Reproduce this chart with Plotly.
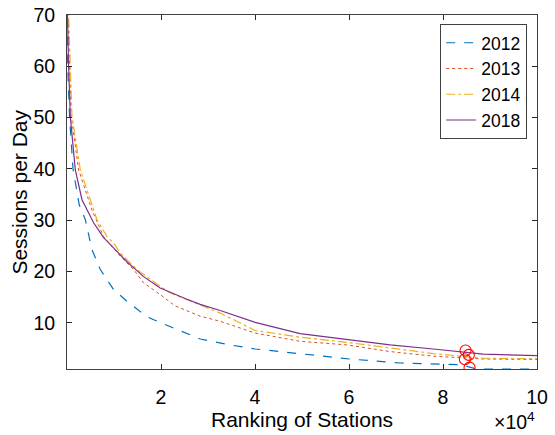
import plotly.graph_objects as go

# ---- data (rank of station, sessions per day) ----
rank_2012 = [1, 100, 150, 550, 1280, 2600, 3900, 5300, 7080, 9910, 12760, 15580, 17700, 22660, 28340, 34000, 40040, 49600, 60100, 70870, 80080, 84000, 85500, 87200, 100000]
val_2012 = [150, 70, 60, 50, 40, 33, 30.1, 24.3, 20.4, 16.5, 14.2, 12.2, 10.9, 9.0, 6.85, 5.8, 4.9, 3.98, 2.95, 2.17, 1.9, 1.85, 1.4, 1.0, 1.0]

rank_2013 = [1, 150, 560, 920, 2470, 5300, 7790, 9200, 11330, 14160, 16290, 19840, 23000, 28340, 32600, 40040, 49600, 59540, 68740, 77950, 88580, 100000]
val_2013 = [150, 70, 60, 50.2, 39.8, 32, 26.8, 25.2, 23.0, 20.4, 17.8, 15.5, 13.3, 11.3, 10.3, 8.0, 6.4, 5.7, 4.4, 3.5, 2.95, 2.85]

rank_2014 = [1, 340, 700, 1060, 2830, 4950, 6380, 8500, 9910, 11330, 14880, 19840, 22000, 26920, 29770, 32600, 40040, 49600, 59540, 68740, 77950, 88580, 100000]
val_2014 = [150, 70, 60, 50.2, 39.8, 34, 30.1, 26.8, 25.6, 23.6, 20.4, 17.1, 15.8, 14.0, 12.9, 11.9, 8.5, 7.2, 6.2, 5.1, 4.0, 3.1, 3.0]

rank_2018 = [1, 100, 340, 700, 1770, 3190, 5660, 7790, 9910, 12760, 16290, 19840, 25520, 28340, 32600, 40040, 49600, 59540, 68740, 77950, 88580, 100000]
val_2018 = [150, 70, 60, 50.2, 39.8, 34.0, 29.5, 26.6, 24.6, 21.9, 19.0, 16.8, 14.6, 13.6, 12.4, 10.1, 7.9, 6.7, 5.7, 4.9, 3.9, 3.6]

marker_rank = [84800, 85500, 84650, 85650]
marker_val = [4.6, 3.75, 2.9, 1.27]

x_tickvals = [20000, 40000, 60000, 80000, 100000]
x_ticktext = ["2", "4", "6", "8", "10"]
y_tickvals = [10, 20, 30, 40, 50, 60, 70]

FONT = "Arial, Liberation Sans, sans-serif"
TICK_SIZE = 19.5
TITLE_SIZE = 21
LEG_SIZE = 17.5

fig = go.Figure()
series = [
    ("2012", rank_2012, val_2012, "#0072BD", "dash", 1.2),
    ("2013", rank_2013, val_2013, "#D95319", "dot", 1.0),
    ("2014", rank_2014, val_2014, "#EDB120", "dashdot", 1.2),
    ("2018", rank_2018, val_2018, "#7E2F8E", "solid", 1.2),
]
for name, xs, ys, col, dash, w in series:
    fig.add_trace(go.Scatter(x=xs, y=ys, mode="lines", name=name,
                             line=dict(color=col, width=w, dash=dash)))

fig.add_trace(go.Scatter(x=marker_rank, y=marker_val, mode="markers", showlegend=False,
                         marker=dict(symbol="circle-open", color="#FF0000", size=11,
                                     line=dict(width=1.1, color="#FF0000"))))

axis_common = dict(showgrid=False, zeroline=False, showline=True, linecolor="#404040",
                   linewidth=1, mirror="ticks", ticks="inside", ticklen=5,
                   tickcolor="#262626", tickwidth=1, automargin=False,
                   tickfont=dict(family=FONT, size=TICK_SIZE, color="#000000"))

fig.update_xaxes(range=[0, 100000], tickvals=x_tickvals, ticktext=x_ticktext,
                 ticklabelstandoff=11, **axis_common)
fig.update_yaxes(range=[1, 70], tickvals=y_tickvals,
                 ticklabelstandoff=7, **axis_common)

# axis titles
fig.add_annotation(xref="paper", yref="paper", x=0.5, y=-0.143, xanchor="center", yanchor="middle",
                   showarrow=False, text="Ranking of Stations",
                   font=dict(family=FONT, size=TITLE_SIZE, color="#000000"))
fig.add_annotation(xref="paper", yref="paper", x=-0.103, y=0.5, xanchor="center", yanchor="middle",
                   showarrow=False, text="Sessions per Day", textangle=-90,
                   font=dict(family=FONT, size=TITLE_SIZE, color="#000000"))

fig.add_annotation(xref="paper", yref="paper", x=1.0, y=0, xanchor="right", yanchor="bottom",
                   yshift=-66, showarrow=False,
                   text="×10<sup>4</sup>", font=dict(family=FONT, size=TICK_SIZE, color="#000000"))

fig.update_layout(
    width=555, height=435,
    margin=dict(l=67, r=18, t=15, b=66),
    paper_bgcolor="white", plot_bgcolor="white",
    legend=dict(x=0.794, y=0.975, xanchor="left", yanchor="top",
                bgcolor="white", bordercolor="#404040", borderwidth=1,
                font=dict(family=FONT, size=LEG_SIZE, color="#000000"),
                itemwidth=30, tracegroupgap=0),
)

fig.write_html("out.html")
